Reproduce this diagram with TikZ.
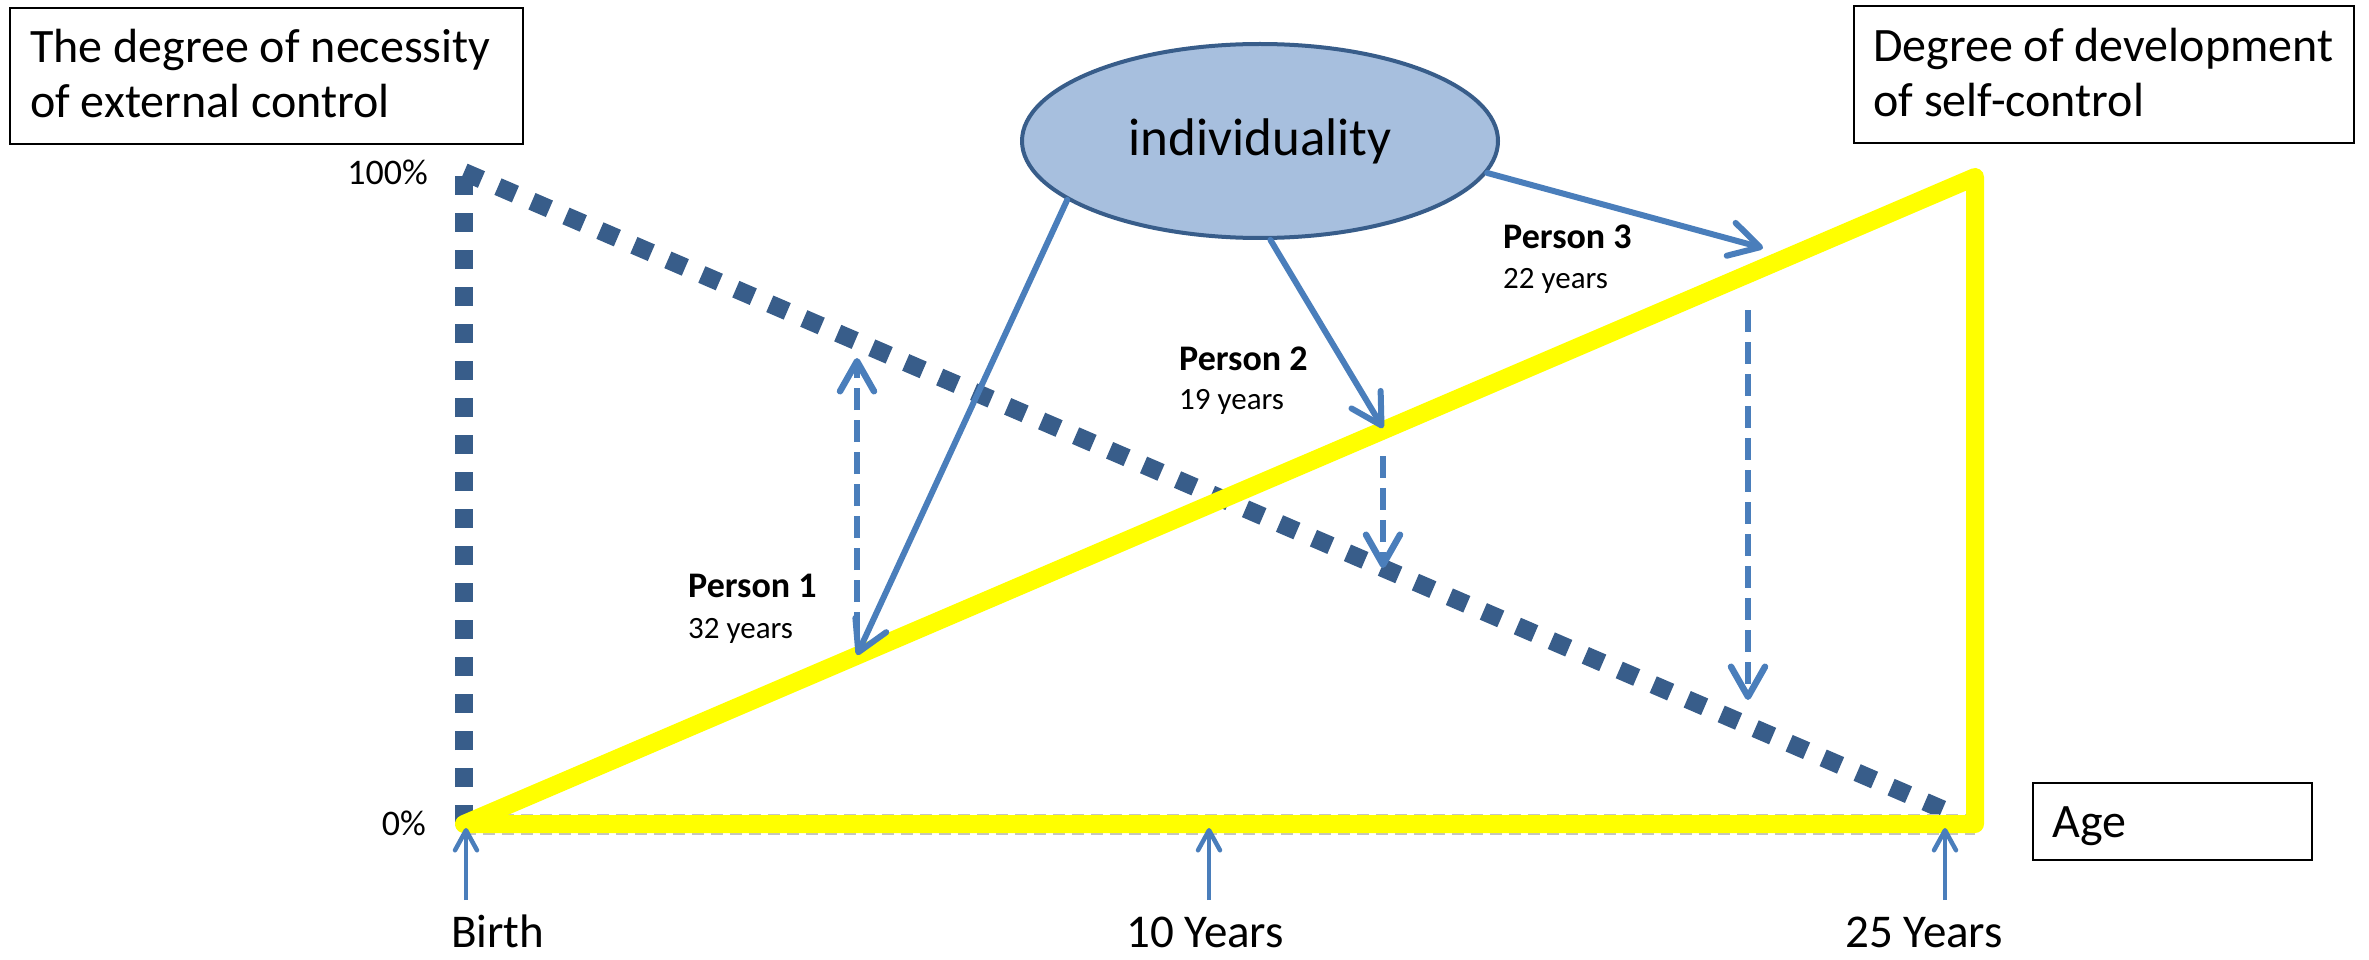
\documentclass[tikz,border=0pt]{standalone}
\usepackage{fontspec}
\setmainfont{Carlito}
\usetikzlibrary{arrows.meta,shapes.geometric}

\definecolor{arrowblue}{HTML}{4A7EBB}
\definecolor{darkblue}{HTML}{385D8A}
\definecolor{fillblue}{HTML}{A7BFDE}
\definecolor{axisgray}{HTML}{C4C4C4}
\definecolor{selfyellow}{HTML}{FFFF00}

\begin{document}
\begin{tikzpicture}[x=1pt,y=-1pt,
  labelbox/.style={draw=black,line width=2.2pt,inner sep=0pt,anchor=north west},
  txt/.style={anchor=base west,inner sep=0pt,font=\fontsize{48}{55}\selectfont},
  axislabel/.style={anchor=base west,inner sep=0pt,font=\fontsize{47}{55}\selectfont},
  pct/.style={anchor=base east,inner sep=0pt,font=\fontsize{36}{42}\selectfont},
  pname/.style={anchor=base west,inner sep=0pt,font=\fontsize{36}{42}\selectfont\bfseries},
  page/.style={anchor=base west,inner sep=0pt,font=\fontsize{31}{36}\selectfont},
  extline/.style={draw=darkblue,line width=18pt,dash pattern=on 19pt off 18pt},
  selfline/.style={draw=selfyellow,line width=18pt,line join=round,line cap=round},
  influence/.style={draw=arrowblue,line width=6pt,line cap=round,
    -{Straight Barb[length=30pt,width=34pt,round]}},
  gap/.style={draw=arrowblue,line width=6.5pt,dash pattern=on 22pt off 10pt,
    -{Straight Barb[length=30pt,width=34pt,round]}},
  tick/.style={draw=arrowblue,line width=4.5pt,
    -{Straight Barb[length=20pt,width=22pt,round]}}
]
\useasboundingbox (0,0) rectangle (2369,960);

% axes corners
\coordinate (origin) at (464,824);
\coordinate (top) at (464,172);
\coordinate (peak) at (1975,177);
\coordinate (end) at (1975,824);
\coordinate (extend) at (1958,816);

% external control: vertical scale and falling line
\draw[extline] (origin) -- (top);
\draw[extline] (top) -- (extend);

% age axis underlay and self-control triangle
\draw[draw=axisgray,line width=21pt,dash pattern=on 12pt off 7pt] (origin) -- (end);
\draw[selfline] (origin) -- (peak) -- (end) -- cycle;

% heading boxes
\node[labelbox,minimum width=513pt,minimum height=136pt] (lbox) at (9,7) {};
\node[txt] (lboxa) at (30,63) {The degree of necessity};
\node[txt] (lboxb) at (30,118) {of external control};

\node[labelbox,minimum width=500pt,minimum height=137pt] (rbox) at (1853,5) {};
\node[txt] (rboxa) at (1873,62) {Degree of development};
\node[txt] (rboxb) at (1873,117) {of self-control};

\node[labelbox,minimum width=279pt,minimum height=77pt] (agebox) at (2032,782) {};
\node[txt] (agetxt) at (2052,837) {Age};

% scale labels
\node[pct] (p100) at (428,185) {100\%};
\node[pct] (p0) at (426,835) {0\%};

% individuality
\node[ellipse,draw=darkblue,line width=4pt,fill=fillblue,minimum width=476pt,
  minimum height=194pt,inner sep=0pt,font=\fontsize{53}{60}\selectfont]
  (ind) at (1260,141) {individuality};

% persons
\node[pname] (n1) at (688,597) {Person 1};
\node[page] (a1) at (688,638) {32 years};
\node[pname] (n2) at (1179,370) {Person 2};
\node[page] (a2) at (1179,409) {19 years};
\node[pname] (n3) at (1503,248) {Person 3};
\node[page] (a3) at (1503,288) {22 years};

% points on the two lines
\coordinate (s1) at (857,655);
\coordinate (s2) at (1383,428);
\coordinate (s3) at (1763,248);
\coordinate (g1a) at (857,634);
\coordinate (g1b) at (857,358);
\coordinate (g2a) at (1383,456);
\coordinate (g2b) at (1383,568);
\coordinate (g3a) at (1748,310);
\coordinate (g3b) at (1748,700);

\draw[influence] (ind.-163) -- (s1);
\draw[influence] (ind.-84) -- (s2);
\draw[influence] (ind.-8) -- (s3);

\draw[gap] (g1a) -- (g1b);
\draw[gap] (g2a) -- (g2b);
\draw[gap] (g3a) -- (g3b);

% age marks
\node[axislabel] (birth) at (451,947) {Birth};
\node[axislabel] (ten) at (1126,947) {10 Years};
\node[axislabel] (tfive) at (1845,947) {25 Years};

\coordinate (m0a) at (466,900);
\coordinate (m0b) at (466,828);
\coordinate (m1a) at (1209,900);
\coordinate (m1b) at (1209,828);
\coordinate (m2a) at (1945,900);
\coordinate (m2b) at (1945,828);
\draw[tick] (m0a) -- (m0b);
\draw[tick] (m1a) -- (m1b);
\draw[tick] (m2a) -- (m2b);
\end{tikzpicture}
\end{document}
